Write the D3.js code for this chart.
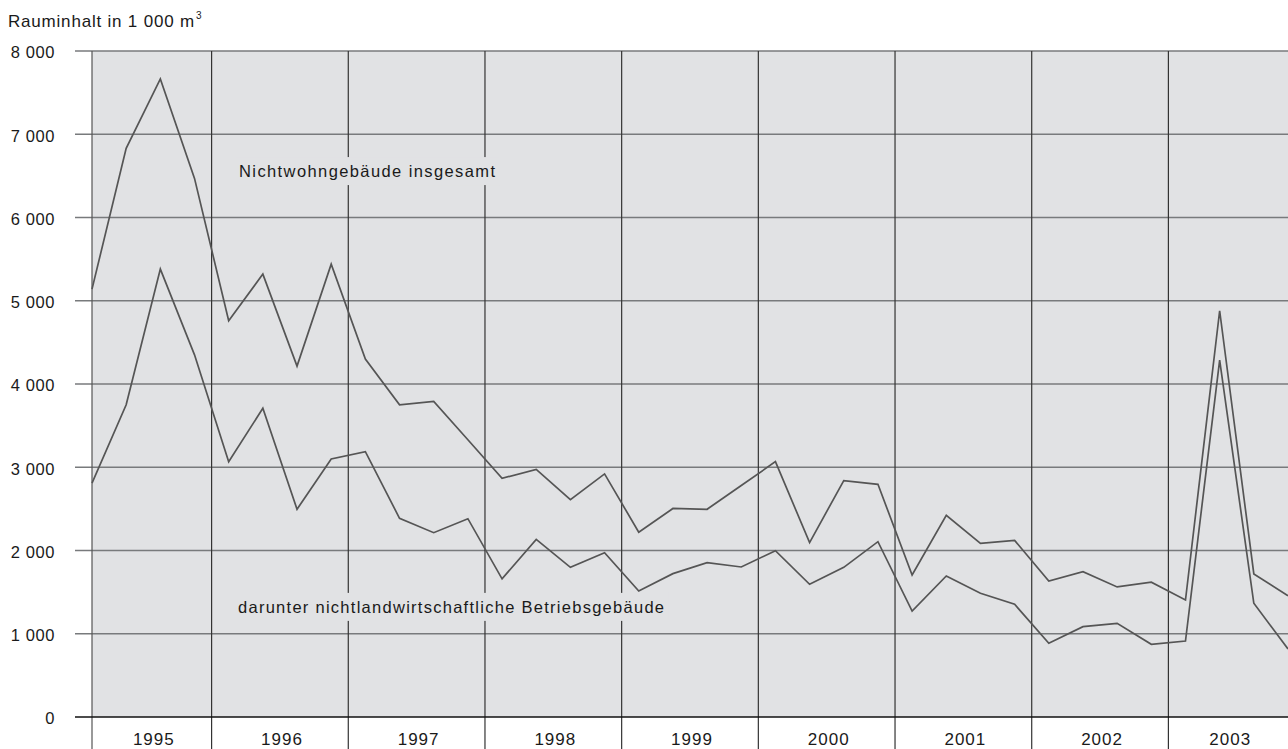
<!DOCTYPE html>
<html><head><meta charset="utf-8">
<script src="https://cdn.jsdelivr.net/npm/d3@7"></script>
<style>
html,body{margin:0;padding:0;background:#fff;}
svg{display:block;font-family:"Liberation Sans",Arial,sans-serif;}
</style></head>
<body>
<svg id="chart" width="1288" height="749"></svg>
<script>
const years = ["1995","1996","1997","1998","1999","2000","2001","2002","2003"];
const quarters = ["Q1","Q2","Q3","Q4"];
const yTicks = [0,1000,2000,3000,4000,5000,6000,7000,8000];
const yTickLabels = ["0","1 000","2 000","3 000","4 000","5 000","6 000","7 000","8 000"];
const totalSeries = [
  5140, 6830, 7665, 6470,
  4760, 5320, 4215, 5440,
  4300, 3750, 3790, 3330,
  2867, 2975, 2610, 2920,
  2220, 2505, 2495, 2780,
  3067, 2095, 2840, 2795,
  1706, 2423, 2086, 2122,
  1634, 1746, 1562, 1620,
  1405, 4880, 1718, 1457
];
const businessSeries = [
  2810, 3750, 5380, 4350,
  3067, 3708, 2495, 3099,
  3187, 2387, 2214, 2382,
  1660, 2134, 1798, 1974,
  1514, 1722, 1854, 1802,
  1998, 1594, 1798, 2106,
  1273, 1694, 1486, 1354,
   885, 1085, 1125,  873,
   913, 4288, 1366,  817
];
const seriesLabels = ["Nichtwohngebäude insgesamt","darunter nichtlandwirtschaftliche Betriebsgebäude"];
const axisTitle = "Rauminhalt in 1 000 m";

const svg = d3.select("#chart");
const L = 92, R = 1288, T = 51, B = 717;
const keys = [];
years.forEach(y => quarters.forEach(q => keys.push(y + q)));

const x = d3.scalePoint().domain(keys).range([L, R]);
const y = d3.scaleLinear().domain([0, 8000]).range([B, T]);
const bg = "#e1e2e4";

// plot background
svg.append("rect").attr("x", L).attr("y", T).attr("width", R - L).attr("height", B - T).attr("fill", bg);

// horizontal gridlines
svg.append("g").selectAll("line").data(yTicks.filter(d => d > 0)).join("line")
  .attr("x1", 75).attr("x2", R).attr("y1", d => y(d)).attr("y2", d => y(d))
  .attr("stroke", "#787a7c").attr("stroke-width", 1.4);

// y tick labels
svg.append("g").selectAll("text").data(yTicks).join("text")
  .attr("x", 55).attr("y", d => y(d) + 1.5).attr("dy", "0.35em")
  .attr("text-anchor", "end").attr("font-size", 16.5).attr("fill", "#1a1a1a")
  .attr("letter-spacing", 0.6)
  .text((d, i) => yTickLabels[i]);

// year boundaries
const step = x.step();
const bounds = [L];
for (let i = 1; i < years.length; i++) bounds.push(x(years[i] + "Q1") - step / 2);
bounds.push(R);

// separators
svg.append("g").selectAll("line").data(bounds.slice(0, -1)).join("line")
  .attr("x1", d => d).attr("x2", d => d).attr("y1", T).attr("y2", 749)
  .attr("stroke", (d, i) => i === 0 ? "#555" : "#333").attr("stroke-width", 1.2);

// x axis line
svg.append("line").attr("x1", 75).attr("x2", R).attr("y1", B).attr("y2", B)
  .attr("stroke", "#111").attr("stroke-width", 1.5);

// year labels
svg.append("g").selectAll("text").data(years).join("text")
  .attr("x", (d, i) => (bounds[i] + bounds[i + 1]) / 2 + 2)
  .attr("y", 745).attr("text-anchor", "middle").attr("font-size", 17)
  .attr("letter-spacing", 1).attr("fill", "#1a1a1a")
  .text(d => d);

// lines
const line = d3.line().x((d, i) => x(keys[i])).y(d => y(d));
[totalSeries, businessSeries].forEach(s => {
  svg.append("path").datum(s).attr("d", line)
    .attr("fill", "none").attr("stroke", "#555").attr("stroke-width", 1.7)
    .attr("stroke-linejoin", "miter");
});

// series labels (with background boxes)
const labelData = [
  {text: seriesLabels[0], x: 239, y: y(6555), ls: 1.4},
  {text: seriesLabels[1], x: 238, y: y(1320), ls: 1.27}
];
labelData.forEach(l => {
  const g = svg.append("g");
  const t = g.append("text").attr("x", l.x).attr("y", l.y).attr("dy", "0.35em")
    .attr("font-size", 16.5).attr("letter-spacing", l.ls).attr("fill", "#1a1a1a").text(l.text);
  const bb = t.node().getBBox();
  g.insert("rect", "text").attr("x", bb.x - 3).attr("y", bb.y - 5).attr("width", bb.width + 6)
    .attr("height", bb.height + 10).attr("fill", bg);
});

// axis title
const title = svg.append("text").attr("x", 8).attr("y", 27).attr("font-size", 17)
  .attr("letter-spacing", 0.8).attr("fill", "#1a1a1a");
title.append("tspan").text(axisTitle);
title.append("tspan").attr("font-size", 10).attr("dy", -8).attr("dx", 1).text("3");
</script>
</body></html>
